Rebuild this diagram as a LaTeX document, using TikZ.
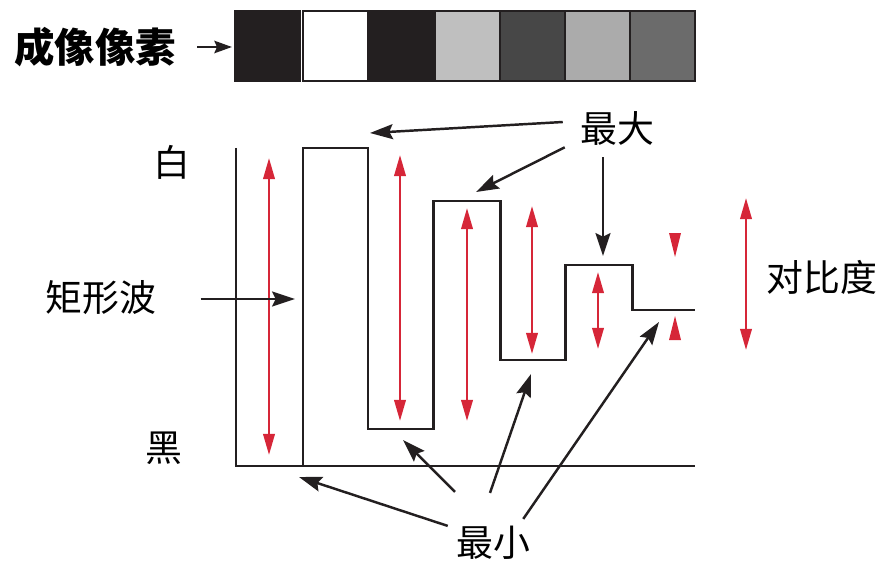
\documentclass[tikz,border=0pt]{standalone}
\usepackage{fontspec}
\setmainfont{Noto Sans CJK SC}
\usepackage{tikz}
\usetikzlibrary{arrows.meta,positioning}
\definecolor{cred}{RGB}{214,38,56}
\definecolor{cdark}{RGB}{35,31,32}

\begin{document}
\begin{tikzpicture}[x=0.02cm,y=-0.02cm,
                          label/.style={font=\fontsize{21}{24}\selectfont, inner sep=0pt},
                          axis/.style={line width=1.7pt, cdark},
                          wave/.style={line width=1.7pt, cdark, line join=miter},
                          pointer/.style={line width=1.4pt, cdark, -{Stealth[length=13pt,width=8.5pt,inset=2pt]}},
                          contrast/.style={line width=1.4pt, cred, {Triangle[length=12pt,width=6.5pt]}-{Triangle[length=12pt,width=6.5pt]}},
                          cell/.style={draw=cdark, line width=1.2pt},
                         ]

\useasboundingbox (0,0) rectangle (895,564);

% pixel strip
\foreach \x/\c in {235/cdark, 303/white, 368/cdark, 435/black!25, 500/black!72, 565/black!33, 630/black!58}{
  \fill[\c] (\x,11) rectangle ++(65,70);
}
\foreach \x in {235,303,368,435,500,565,630}{
  \draw[cell] (\x,11) rectangle ++(65,70);
}

\node[label, font=\fontsize{23}{26}\selectfont\bfseries] (pix) at (95,47) {成像像素};
\coordinate (strip) at (232,47);
\draw[line width=1.6pt, cdark, -{Stealth[length=10pt,width=7pt,inset=1.5pt]}] ([xshift=12]pix.east) -- (strip);

% axes
\coordinate (0) at (236,466);
\draw[axis] (236,148) -- (0) -- (695,466);

% square wave with shrinking swing
\draw[wave] (303,466) -- (303,148) -- (368,148) -- (368,429) -- (433,429) -- (433,201)
            -- (500,201) -- (500,360) -- (565,360) -- (565,265) -- (632,265) -- (632,310) -- (695,310);

\node[label] (white) at (172,162) {白};
\node[label] (black) at (164,448) {黑};

% contrast bars
\draw[contrast] (269,158) -- (269,455);
\draw[contrast] (400,155) -- (400,421);
\draw[contrast] (467,208) -- (467,421);
\draw[contrast] (532,206) -- (532,354);
\draw[contrast] (598,272) -- (598,349);
\draw[contrast] (746,198) -- (746,350);
\fill[cred] (669,233) -- (681,233) -- (675,257) -- cycle;
\fill[cred] (669,340) -- (681,340) -- (675,316) -- cycle;
\node[label] (con) at (822,277) {对比度};

% square wave label
\node[label] (rect) at (101,298) {矩形波};
\coordinate (edge) at (295,299);
\draw[pointer] ([shift={(44,1)}]rect.east) -- (edge);

% maxima
\node[label] (max) at (617,128) {最大};
\coordinate (m1) at (370,133);
\coordinate (m2) at (476,192);
\coordinate (m3) at (603,256);
\draw[pointer] ([shift={(-17,-6)}]max.west) -- (m1);
\draw[pointer] ([shift={(-15,2)}]max.south west) -- (m2);
\draw[pointer] ([shift={(-14,12)}]max.south) -- (m3);

% minima
\node[label] (min) at (493,543) {最小};
\coordinate (n1) at (299,477);
\coordinate (n2) at (403,440);
\coordinate (n3) at (531,374);
\coordinate (n4) at (659,322);
\draw[pointer] ([shift={(-8,0)}]min.north west) -- (n1);
\draw[pointer] ([shift={(-38,-34)}]min.north) -- (n2);
\draw[pointer] ([shift={(-3,-33)}]min.north) -- (n3);
\draw[pointer] ([shift={(-7,-7)}]min.north east) -- (n4);

\end{tikzpicture}
\end{document}
